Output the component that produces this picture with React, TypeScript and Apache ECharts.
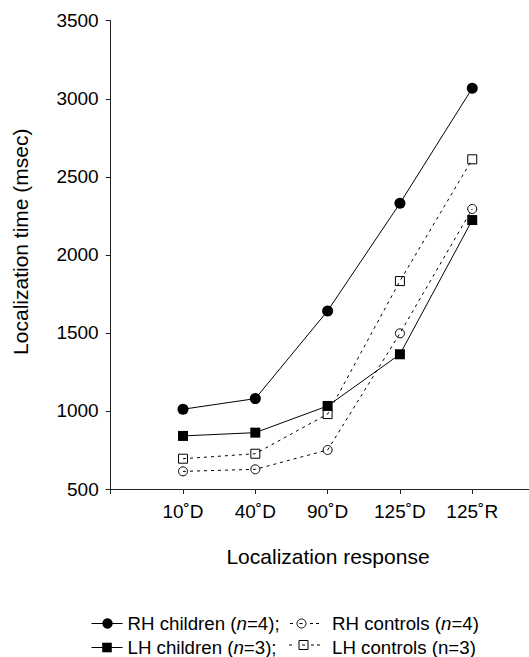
import React, { useEffect, useRef } from "react";
import * as echarts from "echarts";

const categories = ["10˚D", "40˚D", "90˚D", "125˚D", "125˚R"];
const rhChildren = [1011, 1079, 1641, 2330, 3067];
const lhChildren = [840, 861, 1032, 1363, 2223];
const rhControls = [613, 626, 750, 1497, 2294];
const lhControls = [694, 726, 980, 1832, 2612];
const yTicks = [500, 1000, 1500, 2000, 2500, 3000, 3500];

const FONT = "'Liberation Sans', Arial, Helvetica, sans-serif";

const toData = (vals: number[]) => vals.map((v, i) => [i + 1, v]);

export default function App() {
  const ref = useRef<HTMLDivElement>(null);
  useEffect(() => {
    document.body.style.margin = "0";
    const chart = echarts.init(ref.current!, null, { renderer: "svg" });
    const dash = [3, 4];
    const openItem = { color: "rgba(255,255,255,0)", borderColor: "#000", borderWidth: 1 };
    const legendText = (x: number, y: number, text: string) => ({
      type: "text",
      x,
      y,
      style: {
        text,
        fill: "#000",
        fontSize: 18.7,
        fontFamily: FONT,
        verticalAlign: "middle",
        align: "left",
        rich: {
          i: { fontSize: 18.7, fontFamily: FONT, fontStyle: "italic", fill: "#000" },
        },
      },
    });
    const seg = (x1: number, x2: number, y: number) => ({
      type: "line",
      shape: { x1, y1: y, x2, y2: y },
      style: { stroke: "#000", lineWidth: 1 },
    });
    chart.setOption({
      animation: false,
      grid: { left: 110.7, top: 20.7, right: 0, bottom: 168 },
      xAxis: {
        type: "value",
        min: 0,
        max: 5.785,
        interval: 1,
        splitLine: { show: false },
        axisLine: { show: true, onZero: false, lineStyle: { color: "#222", width: 1 } },
        axisTick: { show: true, length: 5, customValues: [0, 1, 2, 3, 4, 5], lineStyle: { color: "#222" } },
        axisLabel: {
          customValues: [1, 2, 3, 4, 5],
          formatter: (v: number) => categories[Math.round(v) - 1] ?? "",
          fontSize: 19,
          fontFamily: FONT,
          color: "#000",
          margin: 13,
        },
      },
      yAxis: {
        type: "value",
        min: yTicks[0],
        max: yTicks[yTicks.length - 1],
        interval: 500,
        splitLine: { show: false },
        axisLine: { show: true, lineStyle: { color: "#222", width: 1 } },
        axisTick: { show: true, length: 5, lineStyle: { color: "#222" } },
        axisLabel: {
          fontSize: 19,
          fontFamily: FONT,
          color: "#000",
          margin: 12,
          formatter: (v: number) => String(v),
        },
      },
      series: [
        {
          name: "RH controls",
          type: "line",
          data: toData(rhControls),
          symbol: "circle",
          symbolSize: 9,
          lineStyle: { color: "#000", width: 1, type: dash },
          itemStyle: openItem,
        },
        {
          name: "LH controls",
          type: "line",
          data: toData(lhControls),
          symbol: "rect",
          symbolSize: 9,
          lineStyle: { color: "#000", width: 1, type: dash },
          itemStyle: openItem,
        },
        {
          name: "LH children",
          type: "line",
          data: toData(lhChildren),
          symbol: "rect",
          symbolSize: 10,
          lineStyle: { color: "#000", width: 1 },
          itemStyle: { color: "#000" },
        },
        {
          name: "RH children",
          type: "line",
          data: toData(rhChildren),
          symbol: "circle",
          symbolSize: 11,
          lineStyle: { color: "#000", width: 1 },
          itemStyle: { color: "#000" },
        },
      ],
      graphic: [
        {
          type: "text",
          x: 20,
          y: 241.7,
          rotation: Math.PI / 2,
          style: {
            text: "Localization time (msec)",
            fontSize: 21,
            fontFamily: FONT,
            fill: "#000",
            align: "center",
            verticalAlign: "middle",
          },
        },
        {
          type: "text",
          x: 328,
          y: 556.7,
          style: {
            text: "Localization response",
            fontSize: 21,
            fontFamily: FONT,
            fill: "#000",
            align: "center",
            verticalAlign: "middle",
          },
        },
        // legend row 1, col 1
        seg(91.5, 122.5, 623.5),
        { type: "circle", shape: { cx: 107.5, cy: 623.5, r: 5.2 }, style: { fill: "#000" } },
        legendText(127.5, 623.5, "RH children ({i|n}=4);"),
        // legend row 2, col 1
        seg(91.5, 122.5, 647.5),
        { type: "rect", shape: { x: 102.2, y: 642.7, width: 9.6, height: 9.6 }, style: { fill: "#000" } },
        legendText(127.5, 647.5, "LH children ({i|n}=3);"),
        // legend row 1, col 2
        seg(290, 293, 623.5),
        { type: "circle", shape: { cx: 301.5, cy: 623.5, r: 4.5 }, style: { fill: "none", stroke: "#000", lineWidth: 1 } },
        seg(299.5, 302.5, 623.5),
        seg(310, 313, 623.5),
        seg(316, 319, 623.5),
        legendText(332, 623.5, "RH controls ({i|n}=4)"),
        // legend row 2, col 2
        seg(289, 292, 645),
        { type: "rect", shape: { x: 299, y: 640.5, width: 9, height: 9 }, style: { fill: "none", stroke: "#000", lineWidth: 1 } },
        seg(302, 305, 645),
        seg(311, 314, 645),
        seg(317, 320, 645),
        legendText(332, 647.5, "LH controls (n=3)"),
      ],
    });
    return () => chart.dispose();
  }, []);
  return (
    <div
      ref={ref}
      style={{ position: "absolute", left: 0, top: 0, width: 529, height: 657, background: "#fff" }}
    />
  );
}
